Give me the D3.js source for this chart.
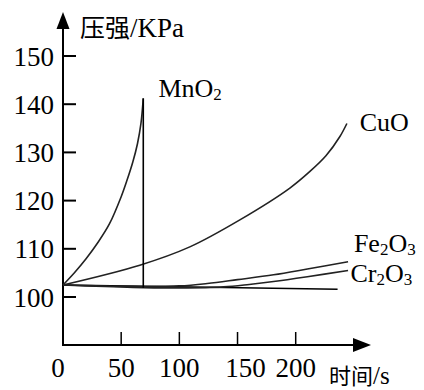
<!DOCTYPE html>
<html>
<head>
<meta charset="UTF-8">
<style>
  body { margin: 0; background: #fff; }
</style>
</head>
<body>
<svg width="424" height="390"></svg>
<script src="https://cdnjs.cloudflare.com/ajax/libs/d3/7.8.5/d3.min.js"></script>
<script>
// time (s), pressure (kPa)
const xTicks = [0, 50, 100, 150, 200];
const yTicks = [100, 110, 120, 130, 140, 150];

const mno2 = [[0, 102.5], [10, 105.1], [20, 108.0], [30, 111.3], [40, 115.2], [50, 120.8], [55, 124.2], [60, 128.0], [64, 131.8], [67, 136.0], [69, 141.2]];
const mno2Drop = [[69, 141.2], [69, 101.9]];
const cuo = [[0, 102.5], [66, 106.6], [109, 110.4], [152, 116.0], [195, 122.6], [212, 126.0], [226, 129.3], [238, 133.3], [244, 136.0]];
const fe2o3 = [[0, 102.5], [60, 102.2], [100, 102.3], [124, 102.8], [150, 103.6], [181, 104.6], [210, 105.8], [245, 107.3]];
const cr2o3 = [[0, 102.5], [60, 102.0], [100, 101.9], [138, 102.1], [160, 102.6], [181, 103.2], [210, 104.2], [245, 105.5]];
const baseline = [[0, 102.5], [236, 101.6]];

const labels = [
  { name: "MnO", sub: "2", tail: "", t: 82, p: 141.4 },
  { name: "CuO", sub: "", tail: "", t: 255, p: 134.4 },
  { name: "Fe", sub: "2", tail: "O", sub2: "3", t: 250, p: 109.4 },
  { name: "Cr", sub: "2", tail: "O", sub2: "3", t: 247, p: 103.2 }
];

const serif = "Liberation Serif, DejaVu Serif, Noto Serif, Times New Roman, serif";
const cjk = "Noto Sans CJK SC, sans-serif";

const svg = d3.select("svg");
const x = d3.scaleLinear().domain([0, 200]).range([63, 295.7]);
const y = d3.scaleLinear().domain([100, 150]).range([297, 56]);

const x0 = x(0), yAxisBottom = 345;

// axes
svg.append("line").attr("x1", x0).attr("x2", x0).attr("y1", yAxisBottom).attr("y2", 26)
  .attr("stroke", "#000").attr("stroke-width", 2);
svg.append("path").attr("d", `M${x0},12 L${x0 - 6.5},29 L${x0 + 6.5},29 Z`).attr("fill", "#000");
svg.append("line").attr("x1", x0 - 1).attr("x2", 356).attr("y1", yAxisBottom).attr("y2", yAxisBottom)
  .attr("stroke", "#000").attr("stroke-width", 2);
svg.append("path").attr("d", `M371,${yAxisBottom} L353,${yAxisBottom - 7} L353,${yAxisBottom + 7} Z`).attr("fill", "#000");

// y ticks
const yt = svg.append("g");
yt.selectAll("line").data(yTicks).join("line")
  .attr("x1", x0).attr("x2", x0 + 13)
  .attr("y1", d => y(d)).attr("y2", d => y(d))
  .attr("stroke", "#000").attr("stroke-width", 2);
yt.selectAll("text").data(yTicks).join("text")
  .attr("x", 54).attr("y", d => y(d) + 9.5)
  .attr("text-anchor", "end").attr("font-size", 27)
  .style("font-family", serif)
  .text(d => d);

// x ticks
const xt = svg.append("g");
xt.selectAll("line").data(xTicks.filter(d => d > 0)).join("line")
  .attr("x1", d => x(d)).attr("x2", d => x(d))
  .attr("y1", yAxisBottom).attr("y2", yAxisBottom - 13)
  .attr("stroke", "#000").attr("stroke-width", 1.5);
xt.selectAll("text").data(xTicks).join("text")
  .attr("x", d => x(d) + (d === 0 ? -5 : d === 150 ? 8 : 0)).attr("y", 377)
  .attr("text-anchor", "middle").attr("font-size", 27)
  .style("font-family", serif)
  .text(d => d);

// axis titles
const yTitle = svg.append("text").attr("x", 80).attr("y", 37);
yTitle.append("tspan").style("font-family", cjk).attr("font-size", 25).text("压强");
yTitle.append("tspan").style("font-family", serif).attr("font-size", 27).text("/KPa");
const xTitle = svg.append("text").attr("x", 329).attr("y", 384);
xTitle.append("tspan").style("font-family", cjk).attr("font-size", 22).text("时间");
xTitle.append("tspan").style("font-family", serif).attr("font-size", 25).text("/s");

// curves
const line = d3.line().x(d => x(d[0])).y(d => y(d[1])).curve(d3.curveCatmullRom.alpha(0.5));
const straight = d3.line().x(d => x(d[0])).y(d => y(d[1]));

svg.append("path").attr("d", straight(baseline)).attr("fill", "none").attr("stroke", "#000").attr("stroke-width", 1.6);
[cr2o3, fe2o3, cuo, mno2].forEach(s => {
  svg.append("path").attr("d", line(s)).attr("fill", "none").attr("stroke", "#222").attr("stroke-width", 1.6);
});
svg.append("path").attr("d", straight(mno2Drop)).attr("fill", "none").attr("stroke", "#000").attr("stroke-width", 1.6);

// series labels
labels.forEach(l => {
  const t = svg.append("text").attr("x", x(l.t)).attr("y", y(l.p))
    .attr("font-size", 26).style("font-family", serif);
  t.append("tspan").text(l.name);
  if (l.sub) t.append("tspan").attr("font-size", 17).attr("dy", 3).text(l.sub);
  if (l.tail) t.append("tspan").attr("dy", -3).text(l.tail);
  if (l.sub2) t.append("tspan").attr("font-size", 17).attr("dy", 3).text(l.sub2);
});
</script>
</body>
</html>
